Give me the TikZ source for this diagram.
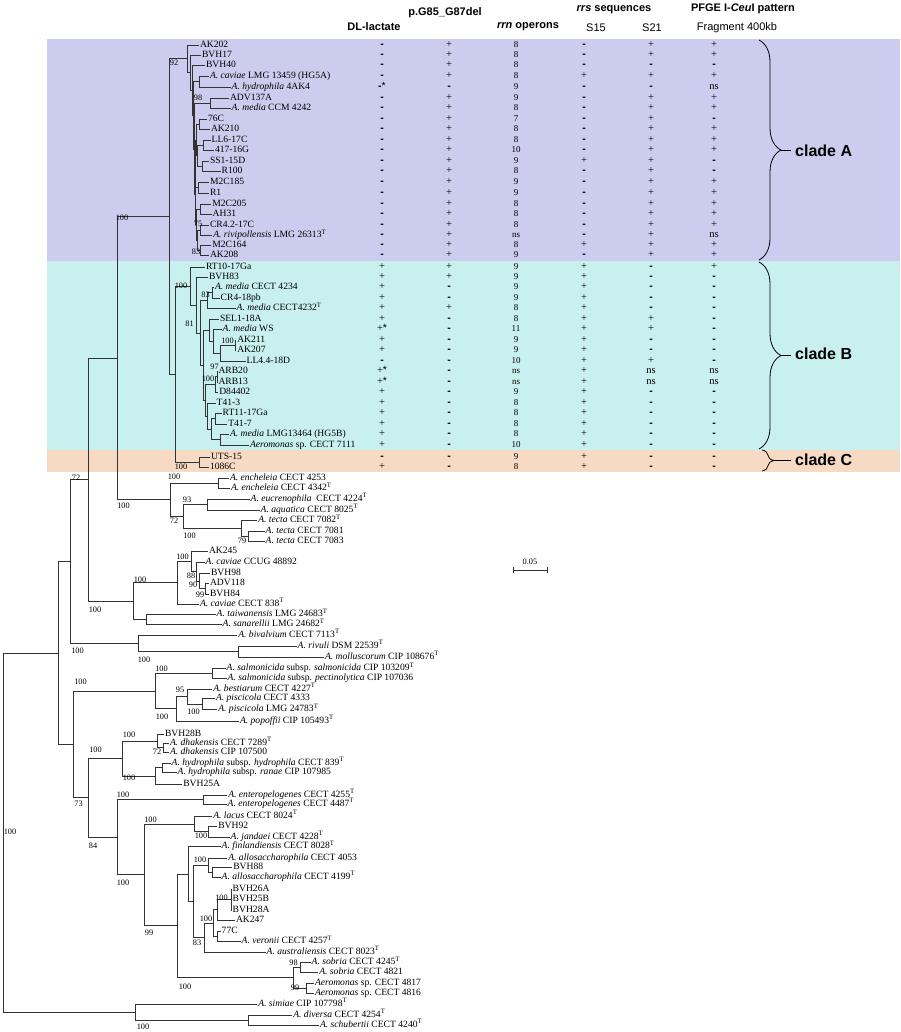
\documentclass[tikz,border=0pt]{standalone}
\usepackage{fontspec}
\setmainfont{Liberation Serif}
\setsansfont{Liberation Sans}
\usetikzlibrary{calc,decorations.pathreplacing}
\definecolor{bandA}{RGB}{204,204,238}
\definecolor{bandB}{RGB}{200,240,238}
\definecolor{bandC}{RGB}{247,218,196}
\newcommand\joinnode[4]{%
	\coordinate (#1-m) at ($(#3)!.5!(#4)$);
	\coordinate (#1) at (#2,0 |- #1-m);
	\draw[branch] (#1) |- (#3);
	\draw[branch] (#1) |- (#4);}
\newcommand\leaf[4]{\node[leaf] (#1) at (#2,#3) {#4};}
\newcommand\boot[4]{\node[boot] (#1) at (#2,#3) {#4};}
\newcommand\mns{{\sffamily\bfseries -}}
\newcommand\datarow[7]{%
	\node[cell] (#1-dl) at (382,0 |- #1) {#2};
	\node[cell] (#1-pg) at (449,0 |- #1) {#3};
	\node[cell,num] (#1-rrn) at (516,0 |- #1) {#4};
	\node[cell] (#1-s15) at (584,0 |- #1) {#5};
	\node[cell] (#1-s21) at (651,0 |- #1) {#6};
	\node[cell] (#1-pf) at (714,0 |- #1) {#7};}
\begin{document}
\begin{tikzpicture}[x=1pt, y=-1pt,
	branch/.style = {line width=0.7pt, draw=black!80},
	leaf/.style = {anchor=west, inner sep=0.8pt, font=\fontsize{9.6}{10}\selectfont, text height=6.6pt, text depth=2pt},
	boot/.style = {inner sep=0pt, font=\fontsize{8.3}{9}\selectfont},
	cell/.style = {inner sep=0pt, font=\fontsize{10.5}{11}\selectfont, text height=6.4pt, text depth=1.8pt},
	num/.style = {font=\fontsize{9}{9}\selectfont},
	head/.style = {inner sep=0pt, font=\sffamily\bfseries\fontsize{11}{12}\selectfont},
	subhead/.style = {inner sep=0pt, font=\sffamily\fontsize{11}{12}\selectfont},
	cladelab/.style = {anchor=west, inner sep=0pt, font=\sffamily\bfseries\fontsize{16}{16}\selectfont},
	cbrace/.style = {decorate, decoration={brace, amplitude=#1}, line width=0.8pt}]
\useasboundingbox (0,0) rectangle (900,1032);
\fill[bandA] (47,39) rectangle (900,260.5);
\fill[bandB] (47,260.5) rectangle (900,449.5);
\fill[bandC] (47,449.5) rectangle (900,472);

\node[head] (hdl) at (374,27) {DL-lactate};
\node[head] (hpg) at (445,13) {p.G85\_G87del};
\node[head] (hrrn) at (528,27) {\textit{rrn} operons};
\node[head] (hrrs) at (614,10) {\textit{rrs} sequences};
\node[subhead] (hs15) at (596,28) {S15};
\node[subhead] (hs21) at (652,28) {S21};
\node[head] (hpf) at (743,9) {PFGE I-\textit{Ceu}I pattern};
\node[subhead] (hfr) at (737,28) {Fragment 400kb};

\leaf{ak202}{199}{45}{AK202}
\leaf{bvh17}{201}{55}{BVH17}
\leaf{bvh40}{205}{65}{BVH40}
\leaf{cav1}{209}{76.5}{\textit{A. caviae} LMG 13459 (HG5A)}
\leaf{hyd1}{230.7}{87}{\textit{A. hydrophila} 4AK4}
\leaf{adv137}{229}{98.5}{ADV137A}
\leaf{medccm}{230.7}{108.5}{\textit{A. media} CCM 4242}
\leaf{c76}{207}{119}{76C}
\leaf{ak210}{210}{129.5}{AK210}
\leaf{ll6}{210.7}{140}{LL6-17C}
\leaf{p417}{214}{150.5}{417-16G}
\leaf{ss1}{209}{161}{SS1-15D}
\leaf{r100}{220.7}{171.5}{R100}
\leaf{m2c185}{209}{182.5}{M2C185}
\leaf{r1}{209}{193}{R1}
\leaf{m2c205}{211.3}{204}{M2C205}
\leaf{ah31}{211.7}{214.5}{AH31}
\leaf{cr42}{209}{225}{CR4.2-17C}
\leaf{riv}{212.3}{235.5}{\textit{A. rivipollensis} LMG 26313\textsuperscript{T}}
\leaf{m2c164}{211.3}{245.5}{M2C164}
\leaf{ak208}{209}{255}{AK208}

\joinnode{ncav}{199}{cav1}{hyd1}
\joinnode{n98}{210}{adv137}{medccm}
\joinnode{n76}{199}{c76}{ak210}
\joinnode{nll}{203}{ll6}{p417}
\joinnode{nss}{202}{ss1}{r100}
\joinnode{nm185}{198}{m2c185}{r1}
\joinnode{nm205}{200}{m2c205}{ah31}
\joinnode{n75}{200}{cr42}{riv}
\joinnode{n83a}{200}{m2c164}{ak208}
\joinnode{ya}{197.5}{n75}{n83a}
\joinnode{yb}{196}{nm205}{ya}
\joinnode{za}{197}{nll}{nss}
\joinnode{zb}{196}{n76}{za}
\joinnode{zc}{195.5}{zb}{nm185}
\joinnode{zd}{195}{zc}{yb}
\joinnode{xd}{194}{n98}{zd}
\joinnode{xc}{193}{ncav}{xd}
\joinnode{xb}{192}{bvh40}{xc}
\joinnode{xa}{190}{bvh17}{xb}
\joinnode{n92}{187}{ak202}{xa}

\leaf{rt10}{205}{267}{RT10-17Ga}
\leaf{bvh83}{208}{277.5}{BVH83}
\leaf{med4234}{214}{287.5}{\textit{A. media} CECT 4234}
\leaf{cr418}{219.7}{298}{CR4-18pb}
\leaf{med4232}{235.7}{308.5}{\textit{A. media} CECT4232\textsuperscript{T}}
\leaf{sel1}{219}{319}{SEL1-18A}
\leaf{medws}{221.7}{329.5}{\textit{A. media} WS}
\leaf{ak211}{236.3}{340}{AK211}
\leaf{ak207}{236.3}{350.5}{AK207}
\leaf{ll44}{245.7}{361}{LL4.4-18D}
\leaf{arb20}{217.5}{371.5}{ARB20}
\leaf{arb13}{217.5}{382}{ARB13}
\leaf{d84402}{218.3}{392.5}{D84402}
\leaf{t413}{215.7}{403}{T41-3}
\leaf{rt11}{221.7}{413.5}{RT11-17Ga}
\leaf{t417}{227.3}{424}{T41-7}
\leaf{medhg}{229}{434.5}{\textit{A. media} LMG13464 (HG5B)}
\leaf{aer7111}{249}{445}{\textit{Aeromonas} sp. CECT 7111}
\leaf{uts15}{210}{457}{UTS-15}
\leaf{c1086}{209}{467}{1086C}

\joinnode{bn83}{212}{med4234}{cr418}
\joinnode{bmed}{207}{bn83}{med4232}
\joinnode{bnak}{235}{ak211}{ak207}
\joinnode{bnll}{220}{bnak}{ll44}
\joinnode{bnws}{213}{medws}{bnll}
\joinnode{bnsel}{209}{sel1}{bnws}
\joinnode{bn97}{217}{arb20}{arb13}
\joinnode{bnd}{215}{bn97}{d84402}
\joinnode{bnrt}{215}{rt11}{t417}
\joinnode{bnhg}{220}{medhg}{aer7111}
\joinnode{bnr2}{211.7}{bnrt}{bnhg}
\joinnode{bnt}{207.3}{t413}{bnr2}
\joinnode{bnl3}{205}{bnd}{bnt}
\joinnode{bnl2}{203}{bnsel}{bnl3}
\joinnode{bnlow}{200}{bmed}{bnl2}
\joinnode{bn81}{196}{bvh83}{bnlow}
\joinnode{bnb}{190}{rt10}{bn81}
\joinnode{bnc}{199}{uts15}{c1086}
\joinnode{bnbc}{175}{bnb}{bnc}
\joinnode{nabc}{169}{n92}{bnbc}

\leaf{enc1}{229}{478}{\textit{A. encheleia} CECT 4253}
\leaf{enc2}{230}{488.5}{\textit{A. encheleia} CECT 4342\textsuperscript{T}}
\leaf{eucr}{249.7}{499}{\textit{A. eucrenophila}\ \ CECT 4224\textsuperscript{T}}
\leaf{aqua}{259.7}{510}{\textit{A. aquatica} CECT 8025\textsuperscript{T}}
\leaf{tec1}{257.3}{520.5}{\textit{A. tecta} CECT 7082\textsuperscript{T}}
\leaf{tec2}{264.7}{531}{\textit{A. tecta} CECT 7081}
\leaf{tec3}{264.7}{541}{\textit{A. tecta} CECT 7083}
\leaf{ak245}{208}{551}{AK245}
\leaf{cavccug}{204.7}{562.5}{\textit{A. caviae} CCUG 48892}
\leaf{bvh98}{210}{573}{BVH98}
\leaf{adv118}{209}{583.5}{ADV118}
\leaf{bvh84}{209}{594}{BVH84}
\leaf{cav838}{199}{604}{\textit{A. caviae} CECT 838\textsuperscript{T}}
\leaf{taiw}{215.7}{614.5}{\textit{A. taiwanensis} LMG 24683\textsuperscript{T}}
\leaf{sana}{221.7}{624.5}{\textit{A. sanarellii} LMG 24682\textsuperscript{T}}
\leaf{biva}{237.3}{635}{\textit{A. bivalvium} CECT 7113\textsuperscript{T}}
\leaf{rivu}{296.7}{646}{\textit{A. rivuli} DSM 22539\textsuperscript{T}}
\leaf{moll}{324}{657}{\textit{A. molluscorum} CIP 108676\textsuperscript{T}}
\leaf{salm1}{225.7}{668.5}{\textit{A. salmonicida} subsp. \textit{salmonicida} CIP 103209\textsuperscript{T}}
\leaf{salm2}{226.7}{678.5}{\textit{A. salmonicida} subsp. \textit{pectinolytica} CIP 107036}
\leaf{best}{212.3}{689}{\textit{A. bestiarum} CECT 4227\textsuperscript{T}}
\leaf{pisc1}{215}{698.5}{\textit{A. piscicola} CECT 4333}
\leaf{pisc2}{217.3}{709.5}{\textit{A. piscicola} LMG 24783\textsuperscript{T}}
\leaf{popo}{239}{721}{\textit{A. popoffii} CIP 105493\textsuperscript{T}}
\leaf{bvh28b}{164}{734}{BVH28B}
\leaf{dhak1}{169}{743}{\textit{A. dhakensis} CECT 7289\textsuperscript{T}}
\leaf{dhak2}{169}{752.5}{\textit{A. dhakensis} CIP 107500}
\leaf{hydr1}{170.7}{763}{\textit{A. hydrophila} subsp. \textit{hydrophila} CECT 839\textsuperscript{T}}
\leaf{hydr2}{176.7}{772.5}{\textit{A. hydrophila} subsp. \textit{ranae} CIP 107985}
\leaf{bvh25a}{182.3}{784}{BVH25A}
\leaf{ent1}{227.3}{795}{\textit{A. enteropelogenes} CECT 4255\textsuperscript{T}}
\leaf{ent2}{226.7}{804}{\textit{A. enteropelogenes} CECT 4487\textsuperscript{T}}
\leaf{lacu}{212.3}{816}{\textit{A. lacus} CECT 8024\textsuperscript{T}}
\leaf{bvh92}{217.3}{826.5}{BVH92}
\leaf{jand}{229.7}{837}{\textit{A. jandaei} CECT 4228\textsuperscript{T}}
\leaf{finl}{220.7}{846.5}{\textit{A. finlandiensis} CECT 8028\textsuperscript{T}}
\leaf{allo1}{227.3}{858}{\textit{A. allosaccharophila} CECT 4053}
\leaf{bvh88}{232.3}{867.5}{BVH88}
\leaf{allo2}{220.7}{877}{\textit{A. allosaccharophila} CECT 4199\textsuperscript{T}}
\leaf{bvh26a}{231.7}{889}{BVH26A}
\leaf{bvh25b}{231.7}{899}{BVH25B}
\leaf{bvh28a}{231.7}{910}{BVH28A}
\leaf{ak247}{235}{920.5}{AK247}
\leaf{c77}{220.7}{931}{77C}
\leaf{vero}{240.7}{941.5}{\textit{A. veronii} CECT 4257\textsuperscript{T}}
\leaf{aust}{265.7}{952}{\textit{A. australiensis} CECT 8023\textsuperscript{T}}
\leaf{sob1}{310.7}{962.5}{\textit{A. sobria} CECT 4245\textsuperscript{T}}
\leaf{sob2}{318.3}{972}{\textit{A. sobria} CECT 4821}
\leaf{aer4817}{314}{983}{\textit{Aeromonas} sp. CECT 4817}
\leaf{aer4816}{314}{993}{\textit{Aeromonas} sp. CECT 4816}
\leaf{simi}{257.3}{1004}{\textit{A. simiae} CIP 107798\textsuperscript{T}}
\leaf{dive}{292.3}{1015}{\textit{A. diversa} CECT 4254\textsuperscript{T}}
\leaf{schu}{319}{1025}{\textit{A. schubertii} CECT 4240\textsuperscript{T}}

\joinnode{nenc}{218}{enc1}{enc2}
\joinnode{n93}{207}{eucr}{aqua}
\joinnode{n79}{248}{tec2}{tec3}
\joinnode{ntec}{241}{tec1}{n79}
\joinnode{n72}{183}{n93}{ntec}
\joinnode{nench}{170}{nenc}{n72}
\joinnode{n117}{117}{nabc}{nench}
\joinnode{n99}{205}{adv118}{bvh84}
\joinnode{n90}{199.3}{bvh98}{n99}
\joinnode{n88c}{196.7}{cavccug}{n90}
\joinnode{nak}{191.7}{ak245}{n88c}
\joinnode{n177}{177}{nak}{cav838}
\joinnode{ntaiw}{146}{taiw}{sana}
\joinnode{n133}{133}{n177}{ntaiw}
\joinnode{n88}{88}{n117}{n133}
\joinnode{nriv}{238}{rivu}{moll}
\joinnode{nbiv}{138}{biva}{nriv}
\joinnode{n70}{70}{n88}{nbiv}
\joinnode{nsal2}{212}{salm1}{salm2}
\joinnode{npisc}{202}{pisc1}{pisc2}
\joinnode{n95}{187}{best}{npisc}
\joinnode{nbest}{176}{n95}{popo}
\joinnode{nsalm}{155}{nsal2}{nbest}
\joinnode{n72d}{163}{dhak1}{dhak2}
\joinnode{ndh2}{157}{bvh28b}{n72d}
\joinnode{nhr}{162}{hydr1}{hydr2}
\joinnode{nhyd}{155}{nhr}{bvh25a}
\joinnode{ndhak}{122}{ndh2}{nhyd}
\joinnode{nent}{203}{ent1}{ent2}
\joinnode{njan}{208}{bvh92}{jand}
\joinnode{nlac}{194}{lacu}{njan}
\joinnode{nb88}{212}{bvh88}{allo2}
\joinnode{n100a}{208}{allo1}{nb88}
\coordinate (npoly) at (231,0 |- bvh25b);
\draw[branch] (npoly) |- (bvh26a);
\draw[branch] (npoly) |- (bvh25b);
\draw[branch] (npoly) |- (bvh28a);
\joinnode{nak247}{217}{npoly}{ak247}
\joinnode{n77}{217}{c77}{vero}
\joinnode{n100b}{213}{nak247}{n77}
\joinnode{n83c}{204}{n100b}{aust}
\joinnode{nx}{193}{n100a}{n83c}
\joinnode{nfin}{188}{finl}{nx}
\joinnode{n98s}{300}{sob1}{sob2}
\joinnode{n99s}{306}{aer4817}{aer4816}
\joinnode{nsob}{293}{n98s}{n99s}
\joinnode{n177b}{177}{nfin}{nsob}
\joinnode{n144}{144}{nlac}{n177b}
\joinnode{n117b}{117}{nent}{n144}
\joinnode{n88b}{88}{ndhak}{n117b}
\joinnode{n73}{73}{nsalm}{n88b}
\joinnode{n58}{58}{n70}{n73}
\joinnode{ndiv}{248}{dive}{schu}
\joinnode{nout}{135}{simi}{ndiv}
\joinnode{root}{3}{n58}{nout}

\boot{b01}{122}{218}{100}
\boot{b02}{174}{63}{92}
\boot{b03}{198}{98}{98}
\boot{b04}{198}{224}{75}
\boot{b05}{196}{252}{83}
\boot{b06}{181}{286}{100}
\boot{b07}{189.5}{323.5}{81}
\boot{b08}{205.5}{294.5}{83}
\boot{b09}{227.5}{341}{100}
\boot{b10}{214.5}{366.5}{97}
\boot{b11}{208}{379}{100}
\boot{b12}{181}{466.5}{100}
\boot{b13}{123.5}{506}{100}
\boot{b14}{76}{477.5}{72}
\boot{b15}{174}{477}{100}
\boot{b16}{187}{500}{93}
\boot{b17}{174}{521}{72}
\boot{b18}{189.5}{536}{100}
\boot{b19}{242}{541}{79}
\boot{b20}{182.5}{557}{100}
\boot{b21}{191}{576}{88}
\boot{b22}{193}{584.5}{90}
\boot{b23}{200}{594.5}{99}
\boot{b24}{140}{579.5}{100}
\boot{b25}{95}{609.5}{100}
\boot{b26}{77.5}{650.5}{100}
\boot{b27}{144}{659.5}{100}
\boot{b28}{80.5}{681.5}{100}
\boot{b29}{161.5}{669}{100}
\boot{b30}{180}{689.5}{95}
\boot{b31}{193.5}{711.5}{100}
\boot{b32}{162}{716.5}{100}
\boot{b33}{95.5}{750}{100}
\boot{b34}{129}{734.5}{100}
\boot{b35}{157}{752}{72}
\boot{b36}{129}{778}{100}
\boot{b37}{78.5}{804}{73}
\boot{b38}{123}{794.5}{100}
\boot{b39}{150.5}{819.5}{100}
\boot{b40}{201}{835.5}{100}
\boot{b41}{93}{845.5}{84}
\boot{b42}{123}{883}{100}
\boot{b43}{200}{859.5}{100}
\boot{b44}{221.5}{898}{100}
\boot{b45}{206}{919}{100}
\boot{b46}{197}{943}{83}
\boot{b47}{149}{933}{99}
\boot{b48}{185}{987}{100}
\boot{b49}{293.5}{963}{98}
\boot{b50}{295}{988}{99}
\boot{b51}{143}{1027}{100}
\boot{b52}{10}{832}{100}

\datarow{ak202}{\mns}{+}{8}{\mns}{+}{+}
\datarow{bvh17}{\mns}{+}{8}{\mns}{+}{+}
\datarow{bvh40}{\mns}{+}{8}{\mns}{\mns}{\mns}
\datarow{cav1}{\mns}{+}{8}{+}{+}{+}
\datarow{hyd1}{\mns\textsf{*}}{\mns}{9}{\mns}{\mns}{ns}
\datarow{adv137}{\mns}{+}{9}{\mns}{+}{+}
\datarow{medccm}{\mns}{+}{8}{\mns}{+}{+}
\datarow{c76}{\mns}{+}{7}{\mns}{+}{\mns}
\datarow{ak210}{\mns}{+}{8}{\mns}{+}{+}
\datarow{ll6}{\mns}{+}{8}{\mns}{+}{+}
\datarow{p417}{\mns}{+}{10}{\mns}{+}{+}
\datarow{ss1}{\mns}{+}{9}{+}{+}{\mns}
\datarow{r100}{\mns}{+}{8}{\mns}{+}{\mns}
\datarow{m2c185}{\mns}{+}{9}{\mns}{+}{+}
\datarow{r1}{\mns}{+}{9}{\mns}{+}{+}
\datarow{m2c205}{\mns}{+}{8}{\mns}{+}{+}
\datarow{ah31}{\mns}{+}{8}{\mns}{+}{+}
\datarow{cr42}{\mns}{+}{8}{\mns}{+}{+}
\datarow{riv}{\mns}{+}{ns}{\mns}{+}{ns}
\datarow{m2c164}{\mns}{+}{8}{+}{+}{+}
\datarow{ak208}{\mns}{+}{9}{\mns}{+}{+}
\datarow{rt10}{+}{+}{9}{+}{\mns}{+}
\datarow{bvh83}{+}{+}{9}{+}{\mns}{\mns}
\datarow{med4234}{+}{\mns}{9}{+}{\mns}{\mns}
\datarow{cr418}{+}{\mns}{9}{+}{\mns}{\mns}
\datarow{med4232}{+}{+}{8}{+}{\mns}{\mns}
\datarow{sel1}{+}{\mns}{8}{+}{+}{\mns}
\datarow{medws}{+\textsf{*}}{\mns}{11}{+}{+}{\mns}
\datarow{ak211}{+}{\mns}{9}{+}{\mns}{\mns}
\datarow{ak207}{+}{\mns}{9}{+}{\mns}{\mns}
\datarow{ll44}{\mns}{\mns}{10}{+}{+}{\mns}
\datarow{arb20}{+\textsf{*}}{\mns}{ns}{+}{ns}{ns}
\datarow{arb13}{+\textsf{*}}{\mns}{ns}{+}{ns}{ns}
\datarow{d84402}{+}{\mns}{9}{+}{\mns}{\mns}
\datarow{t413}{+}{\mns}{8}{+}{\mns}{\mns}
\datarow{rt11}{+}{\mns}{8}{+}{\mns}{\mns}
\datarow{t417}{+}{\mns}{8}{+}{\mns}{\mns}
\datarow{medhg}{+}{\mns}{8}{+}{\mns}{\mns}
\datarow{aer7111}{+}{\mns}{10}{+}{\mns}{\mns}
\datarow{uts15}{\mns}{\mns}{9}{+}{\mns}{\mns}
\datarow{c1086}{+}{\mns}{8}{+}{\mns}{\mns}

\node[cladelab] (labA) at (795,151) {clade A};
\node[cladelab] (labB) at (795,354) {clade B};
\node[cladelab] (labC) at (795,460) {clade C};
\coordinate (bA1) at (759,40);
\coordinate (bA2) at (759,260);
\coordinate (bB1) at (759,262);
\coordinate (bB2) at (759,449);
\coordinate (bC1) at (762,450);
\coordinate (bC2) at (762,471);
\draw[cbrace=22pt] (bA1) -- (bA2);
\draw[cbrace=22pt] (bB1) -- (bB2);
\draw[cbrace=12pt] (bC1) -- (bC2);
\coordinate (tA) at ($(bA1)!.5!(bA2)+(22,0)$);
\coordinate (tB) at ($(bB1)!.5!(bB2)+(22,0)$);
\coordinate (tC) at ($(bC1)!.5!(bC2)+(12,0)$);
\draw[line width=0.8pt, shorten >=4pt] (tA) -- (tA -| labA.west);
\draw[line width=0.8pt, shorten >=4pt] (tB) -- (tB -| labB.west);
\draw[line width=0.8pt, shorten >=4pt] (tC) -- (tC -| labC.west);

\coordinate (sbl) at (513,570);
\coordinate (sbr) at (547,570);
\draw[branch] (sbl) -- (sbr);
\draw[branch] ([yshift=3pt]sbl) -- ([yshift=-3pt]sbl);
\draw[branch] ([yshift=3pt]sbr) -- ([yshift=-3pt]sbr);
\node[boot] (sbt) at (530,562) {0.05};
\end{tikzpicture}
\end{document}
